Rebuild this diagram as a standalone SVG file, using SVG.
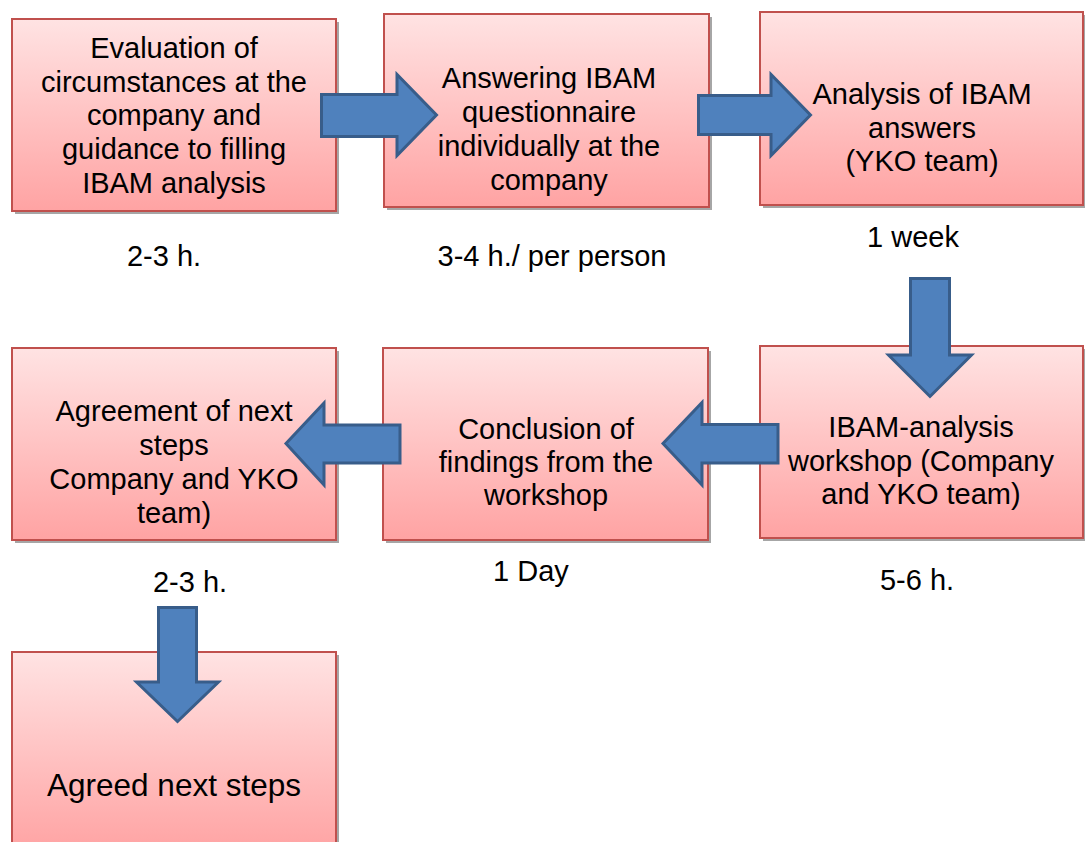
<svg xmlns="http://www.w3.org/2000/svg" width="1085" height="842" viewBox="0 0 1085 842">
<defs>
<linearGradient id="g" x1="0" y1="0" x2="0" y2="1">
<stop offset="0" stop-color="#FFE3E3"/>
<stop offset="1" stop-color="#FFA3A3"/>
</linearGradient>
<style>
.box{fill:url(#g);stroke:#C0504D;stroke-width:2}
.sh{fill:#A6A6A6}
.t{font-family:"Liberation Sans",Arial,sans-serif;font-size:29px;fill:#000;text-anchor:middle}
.big{font-size:31.5px}
.arr{fill:#4F81BD;stroke:#385D8A;stroke-width:3;stroke-linejoin:miter}
</style>
</defs>
<rect width="1085" height="842" fill="#fff"/>
<g id="n1">
<rect class="sh" x="15" y="22" width="324" height="192"/>
<rect class="box" x="12" y="19" width="324" height="192"/>
<text class="t" x="174" y="58">Evaluation of</text>
<text class="t" x="174" y="92">circumstances at the</text>
<text class="t" x="174" y="125">company and</text>
<text class="t" x="174" y="159">guidance to filling</text>
<text class="t" x="174" y="193">IBAM analysis</text>
</g>
<g id="n2">
<rect class="sh" x="387" y="17" width="325" height="193"/>
<rect class="box" x="384" y="14" width="325" height="193"/>
<text class="t" x="549" y="88">Answering IBAM</text>
<text class="t" x="549" y="122">questionnaire</text>
<text class="t" x="549" y="156">individually at the</text>
<text class="t" x="549" y="190">company</text>
</g>
<g id="n3">
<rect class="sh" x="763" y="15" width="323" height="193"/>
<rect class="box" x="760" y="12" width="323" height="193"/>
<text class="t" x="922" y="104">Analysis of IBAM</text>
<text class="t" x="922" y="138">answers</text>
<text class="t" x="922" y="171">(YKO team)</text>
</g>
<g id="n4">
<rect class="sh" x="763" y="349" width="323" height="192"/>
<rect class="box" x="760" y="346" width="323" height="192"/>
<text class="t" x="921" y="437">IBAM-analysis</text>
<text class="t" x="921" y="471">workshop (Company</text>
<text class="t" x="921" y="504">and YKO team)</text>
</g>
<g id="n5">
<rect class="sh" x="386" y="351" width="325" height="192"/>
<rect class="box" x="383" y="348" width="325" height="192"/>
<text class="t" x="546" y="439">Conclusion of</text>
<text class="t" x="546" y="472">findings from the</text>
<text class="t" x="546" y="505">workshop</text>
</g>
<g id="n6">
<rect class="sh" x="15" y="351" width="324" height="192"/>
<rect class="box" x="12" y="348" width="324" height="192"/>
<text class="t" x="174" y="421">Agreement of next</text>
<text class="t" x="174" y="455">steps</text>
<text class="t" x="174" y="489">Company and YKO</text>
<text class="t" x="174" y="523">team)</text>
</g>
<g id="n7">
<rect class="sh" x="15" y="655" width="324" height="200"/>
<rect class="box" x="12" y="652" width="324" height="200"/>
<text class="t big" x="174" y="796">Agreed next steps</text>
</g>
<g id="labels">
<text class="t" x="164" y="266">2-3 h.</text>
<text class="t" x="552" y="266">3-4 h./ per person</text>
<text class="t" x="913" y="247">1 week</text>
<text class="t" x="190" y="592">2-3 h.</text>
<text class="t" x="531" y="581">1 Day</text>
<text class="t" x="917" y="590">5-6 h.</text>
</g>
<g id="connectors">
<polygon class="arr" points="321.5,94.5 397,94.5 397,74.5 436.5,115 397,155.5 397,136.5 321.5,136.5"/>
<polygon class="arr" points="698.5,95.5 771,95.5 771,74.5 810.5,115 771,155.5 771,134.5 698.5,134.5"/>
<polygon class="arr" points="910.5,278.5 949.5,278.5 949.5,355 971.5,355 930,396.5 888.5,355 910.5,355"/>
<polygon class="arr" points="778,424.5 702,424.5 702,402.5 663,443.5 702,485 702,463 778,463"/>
<polygon class="arr" points="400,425 324,425 324,403 286,443.5 324,485 324,463 400,463"/>
<polygon class="arr" points="158.5,607.5 196.5,607.5 196.5,682 218.5,682 177.5,721.5 136.5,682 158.5,682"/>
</g>
</svg>
